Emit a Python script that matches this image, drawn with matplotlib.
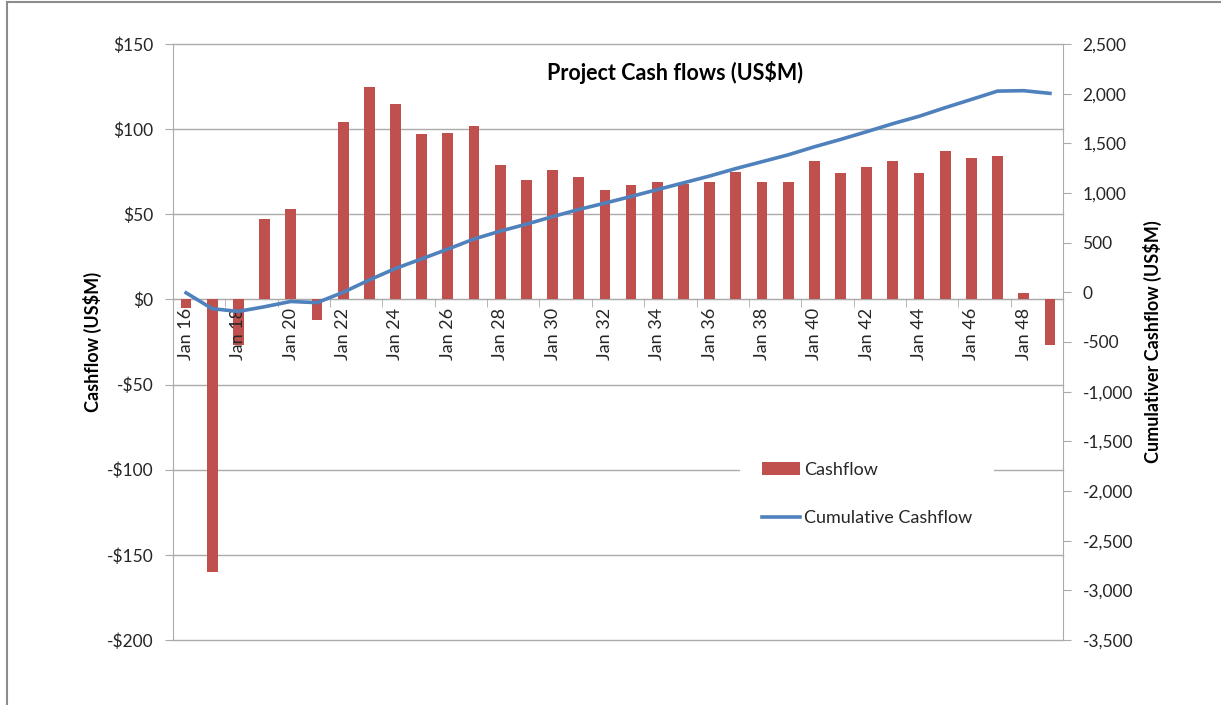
import matplotlib
matplotlib.use("Agg")
import matplotlib.pyplot as plt
from matplotlib.patches import Rectangle
from matplotlib.ticker import FixedLocator, FuncFormatter
import numpy as np

years = list(range(16, 50))
categories = [f"Jan {y}" for y in years]
cashflow = [-5, -160, -27, 47, 53, -12, 104, 125, 115, 97, 98, 102, 79, 70, 76, 72,
            64, 67, 69, 68, 69, 75, 69, 69, 81, 74, 78, 81, 74, 87, 83, 84, 4, -27]
cumulative = [-5, -165, -192, -145, -92, -104, 0, 125, 240, 337, 435, 537, 616, 686,
              762, 834, 898, 965, 1034, 1102, 1171, 1246, 1315, 1384, 1465, 1539,
              1617, 1698, 1772, 1859, 1942, 2026, 2030, 2003]
left_ticks = [150, 100, 50, 0, -50, -100, -150, -200]
right_ticks = [2500, 2000, 1500, 1000, 500, 0, -500, -1000, -1500, -2000, -2500, -3000, -3500]

FONT = ['Lato', 'DejaVu Sans']
plt.rcParams['font.family'] = FONT
BAR = '#C0504D'
LINE = '#4F81BD'
GRID = '#ABABAB'
TXT = '#262626'

W, H = 1221, 705
fig = plt.figure(figsize=(W / 100, H / 100), dpi=100)
ax = fig.add_axes([173 / W, 1 - 640 / H, (1063 - 173) / W, (640 - 44) / H])

x = np.arange(len(categories))
ax.bar(x, cashflow, width=0.41, color=BAR, zorder=1, label='Cashflow')
ax.set_xlim(-0.5, len(categories) - 0.5)
ax.set_ylim(-200, 150)
ax.set_yticks(left_ticks)
ax.yaxis.set_major_formatter(FuncFormatter(lambda v, p: (r'\$%d' % v) if v >= 0 else (r'-\$%d' % abs(v))))
for v in left_ticks:
    ax.axhline(v, color=GRID, lw=1, zorder=0, clip_on=False)

for s in ['top', 'right']:
    ax.spines[s].set_visible(False)
ax.spines['left'].set_color(GRID)
ax.spines['bottom'].set_position(('data', 0))
ax.spines['bottom'].set_color(GRID)
ax.spines['bottom'].set_zorder(0.8)

ax.xaxis.set_major_locator(FixedLocator(x[::2]))
ax.set_xticklabels(categories[::2], rotation=90, fontsize=13, color=TXT)
ax.tick_params(axis='x', which='major', length=0, pad=6)
ax.xaxis.set_minor_locator(FixedLocator(np.arange(1.5, len(categories) - 1, 2)))
ax.tick_params(axis='x', which='minor', length=6, color=GRID, direction='out')
ax.tick_params(axis='y', length=6, color=GRID, labelsize=12.5, labelcolor=TXT, pad=8)
ax.xaxis.set_zorder(2.5)
ax.yaxis.set_zorder(2.5)

ax2 = ax.twinx()
ax2.plot(x, cumulative, color=LINE, lw=2.6, zorder=3, label='Cumulative Cashflow')
ax2.set_ylim(-3500, 2500)
ax2.set_yticks(right_ticks)
ax2.yaxis.set_major_formatter(FuncFormatter(lambda v, p: f"{int(v):,}"))
for s in ['top', 'left', 'bottom']:
    ax2.spines[s].set_visible(False)
ax2.spines['right'].set_color(GRID)
ax2.tick_params(axis='y', length=6, color=GRID, labelsize=12.5, labelcolor=TXT, pad=8)

fig.text(675 / W, 1 - 72 / H, 'Project Cash flows (US\\$M)', ha='center', va='center',
         fontsize=15.5, fontweight='bold', color='black')
fig.text(92 / W, 1 - 342 / H, 'Cashflow (US\\$M)', rotation=90, ha='center', va='center',
         fontsize=13, fontweight='bold', color='black')
fig.text(1152 / W, 1 - 342 / H, 'Cumulativer Cashflow (US\\$M)', rotation=90, ha='center',
         va='center', fontsize=13, fontweight='bold', color='black')

h1, l1 = ax.get_legend_handles_labels()
h2, l2 = ax2.get_legend_handles_labels()
leg = ax2.legend(h1 + h2, l1 + l2, loc='upper left',
                 bbox_to_anchor=(740 / W, 1 - 440 / H), bbox_transform=fig.transFigure,
                 frameon=True, fontsize=13, handlelength=2.1, handleheight=0.7,
                 labelspacing=1.8, handletextpad=0.25, borderpad=1.2, borderaxespad=0)
leg.get_frame().set_facecolor('white')
leg.get_frame().set_edgecolor('none')
leg.get_frame().set_alpha(1)
leg.get_frame().set_boxstyle('square', pad=0)
for t in leg.get_texts():
    t.set_color(TXT)

fig.patches.append(Rectangle((7 / W, -0.1), 2, 1.1 - 1.5 / H, transform=fig.transFigure,
                             fill=False, edgecolor='#8C8C8C', lw=1.5))

fig.savefig('out.png', dpi=100)
